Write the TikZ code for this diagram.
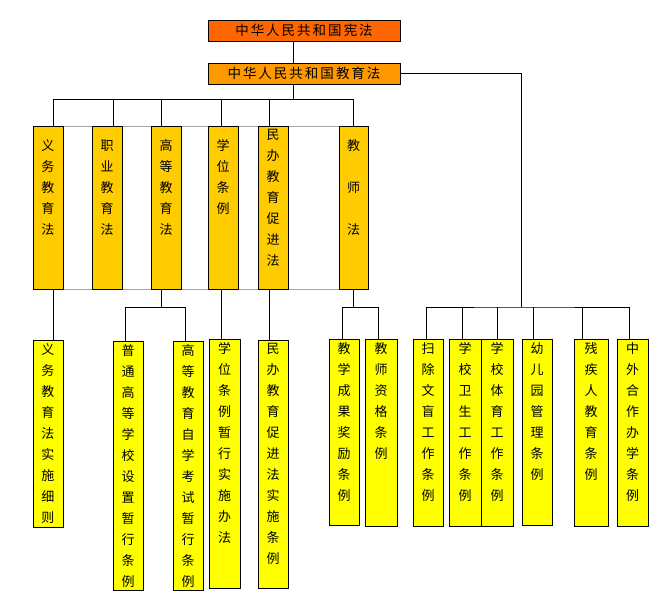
\documentclass[tikz,border=0pt]{standalone}
\usepackage{fontspec}
\setmainfont{Noto Sans CJK SC}
\newcommand\cjksp{\hspace{2pt}}
\definecolor{topred}{HTML}{FF6600}
\definecolor{toporg}{HTML}{FF9900}
\definecolor{gold}{HTML}{FFCC00}
\definecolor{yel}{HTML}{FFFF00}
\tikzset{
  ln/.style={draw=black, line width=0.8pt},
  boxbase/.style={rectangle, draw=black, line width=0.8pt, minimum width=30pt, inner sep=0pt},
  headbox/.style={boxbase, minimum width=192pt, minimum height=21pt, font=\fontsize{13.5}{16}\selectfont},
  rowbox/.style={boxbase, fill=gold, minimum height=163pt},
  lowbox/.style={boxbase, fill=yel},
  vtext/.style={anchor=north, align=center, inner sep=0pt, font=\fontsize{13}{21}\selectfont, yshift=-3.5pt},
}
\begin{document}
\begin{tikzpicture}[x=1pt,y=-1pt]
\useasboundingbox (0,0) rectangle (667,597);
% gray table lines
\draw[gray!70, line width=0.8pt] (33,126) -- (368,126);
\draw[gray!70, line width=0.8pt] (33,289) -- (368,289);
% heads
\node[headbox, fill=topred] (e1) at (304,30.5) {中\cjksp 华\cjksp 人\cjksp 民\cjksp 共\cjksp 和\cjksp 国\cjksp 宪\cjksp 法};
\node[headbox, fill=toporg] (e2) at (304,73.5) {中\cjksp 华\cjksp 人\cjksp 民\cjksp 共\cjksp 和\cjksp 国\cjksp 教\cjksp 育\cjksp 法};
% row boxes
\node[rowbox] (r1) at (48,207.5) {};
\node[rowbox] (r2) at (107,207.5) {};
\node[rowbox] (r3) at (166,207.5) {};
\node[rowbox] (r4) at (223,207.5) {};
\node[rowbox] (r5) at (273,207.5) {};
\node[rowbox, minimum width=29pt] (r6) at (353.5,207.5) {};
\node[vtext] (t1) at (r1.north) {\mbox{}\\义\\务\\教\\育\\法};
\node[vtext] (t2) at (r2.north) {\mbox{}\\职\\业\\教\\育\\法};
\node[vtext] (t3) at (r3.north) {\mbox{}\\高\\等\\教\\育\\法};
\node[vtext] (t4) at (r4.north) {\mbox{}\\学\\位\\条\\例};
\node[vtext] (t5) at (r5.north) {民\\办\\教\\育\\促\\进\\法};
\node[vtext] (t6) at (r6.north) {\mbox{}\\教\\\mbox{}\\师\\\mbox{}\\法};
% low boxes
\node[lowbox, minimum height=187pt] (b1) at (48,433.5) {};
\node[lowbox, minimum height=249pt] (b2) at (128,465.5) {};
\node[lowbox, minimum height=249pt] (b3) at (188,465.5) {};
\node[lowbox, minimum height=249pt, minimum width=31pt] (b4) at (224.5,463.5) {};
\node[lowbox, minimum height=248pt] (b5) at (273,464) {};
\node[lowbox, minimum height=186pt] (b6) at (344,432) {};
\node[lowbox, minimum height=187pt, minimum width=32pt] (b7) at (381,432.5) {};
\node[lowbox, minimum height=187pt] (b8) at (428,432.5) {};
\node[lowbox, minimum height=187pt, minimum width=32pt] (b9) at (465,432.5) {};
\node[lowbox, minimum height=187pt, minimum width=32pt] (b10) at (497,432.5) {};
\node[lowbox, minimum height=186pt] (b11) at (537,432) {};
\node[lowbox, minimum height=187pt, minimum width=34pt] (b12) at (591,432.5) {};
\node[lowbox, minimum height=187pt, minimum width=31pt] (b13) at (632.5,432.5) {};
\node[vtext] (s1) at (b1.north) {义\\务\\教\\育\\法\\实\\施\\细\\则};
\node[vtext] (s2) at (b2.north) {普\\通\\高\\等\\学\\校\\设\\置\\暂\\行\\条\\例};
\node[vtext] (s3) at (b3.north) {高\\等\\教\\育\\自\\学\\考\\试\\暂\\行\\条\\例};
\node[vtext] (s4) at (b4.north) {学\\位\\条\\例\\暂\\行\\实\\施\\办\\法};
\node[vtext] (s5) at (b5.north) {民\\办\\教\\育\\促\\进\\法\\实\\施\\条\\例};
\node[vtext] (s6) at (b6.north) {教\\学\\成\\果\\奖\\励\\条\\例};
\node[vtext] (s7) at (b7.north) {教\\师\\资\\格\\条\\例};
\node[vtext] (s8) at (b8.north) {扫\\除\\文\\盲\\工\\作\\条\\例};
\node[vtext] (s9) at (b9.north) {学\\校\\卫\\生\\工\\作\\条\\例};
\node[vtext] (s10) at (b10.north) {学\\校\\体\\育\\工\\作\\条\\例};
\node[vtext] (s11) at (b11.north) {幼\\儿\\园\\管\\理\\条\\例};
\node[vtext] (s12) at (b12.north) {残\\疾\\人\\教\\育\\条\\例};
\node[vtext] (s13) at (b13.north) {中\\外\\合\\作\\办\\学\\条\\例};
% connectors top
\draw[ln] ([xshift=-11pt]e1.south) -- ([xshift=-11pt]e2.north);
\draw[ln] ([xshift=-11pt]e2.south) -- ++(0,15) coordinate (jb);
\draw[ln] ([xshift=5pt]r1.north) |- (jb) -| ([xshift=-0.5pt]r6.north);
\draw[ln] ([xshift=6pt]r2.north) -- ([xshift=6pt]r2.north |- jb);
\draw[ln] ([xshift=-5pt]r3.north) -- ([xshift=-5pt]r3.north |- jb);
\draw[ln] ([xshift=-2pt]r4.north) -- ([xshift=-2pt]r4.north |- jb);
\draw[ln] ([xshift=-4pt]r5.north) -- ([xshift=-4pt]r5.north |- jb);
% row to low
\draw[ln] ([xshift=5pt]r1.south) -- ([xshift=5pt]b1.north);
\draw[ln] ([xshift=-5pt]r3.south) -- ++(0,18) coordinate (j3);
\draw[ln] ([xshift=-3pt]b2.north) |- (j3) -| ([xshift=-3pt]b3.north);
\draw[ln] ([xshift=-2pt]r4.south) -- ([xshift=-3.5pt]b4.north);
\draw[ln] ([xshift=-4pt]r5.south) -- ([xshift=-4pt]b5.north);
\draw[ln] ([xshift=-0.5pt]r6.south) -- ++(0,18) coordinate (j6);
\draw[ln] ([xshift=-2pt]b6.north) |- (j6) -| ([xshift=-3pt]b7.north);
% right branch
\coordinate (jr) at (521,307);
\draw[ln] (e2.east) -| (jr);
\draw[ln] ([xshift=-2pt]b8.north) |- (jr) -| ([xshift=-3.5pt]b13.north);
\draw[ln] ([xshift=-3pt]b9.north) -- ([xshift=-3pt]b9.north |- jr);
\draw[ln] (b10.north) -- (b10.north |- jr);
\draw[ln] ([xshift=-4pt]b11.north) -- ([xshift=-4pt]b11.north |- jr);
\draw[ln] ([xshift=-9pt]b12.north) -- ([xshift=-9pt]b12.north |- jr);
\end{tikzpicture}
\end{document}
